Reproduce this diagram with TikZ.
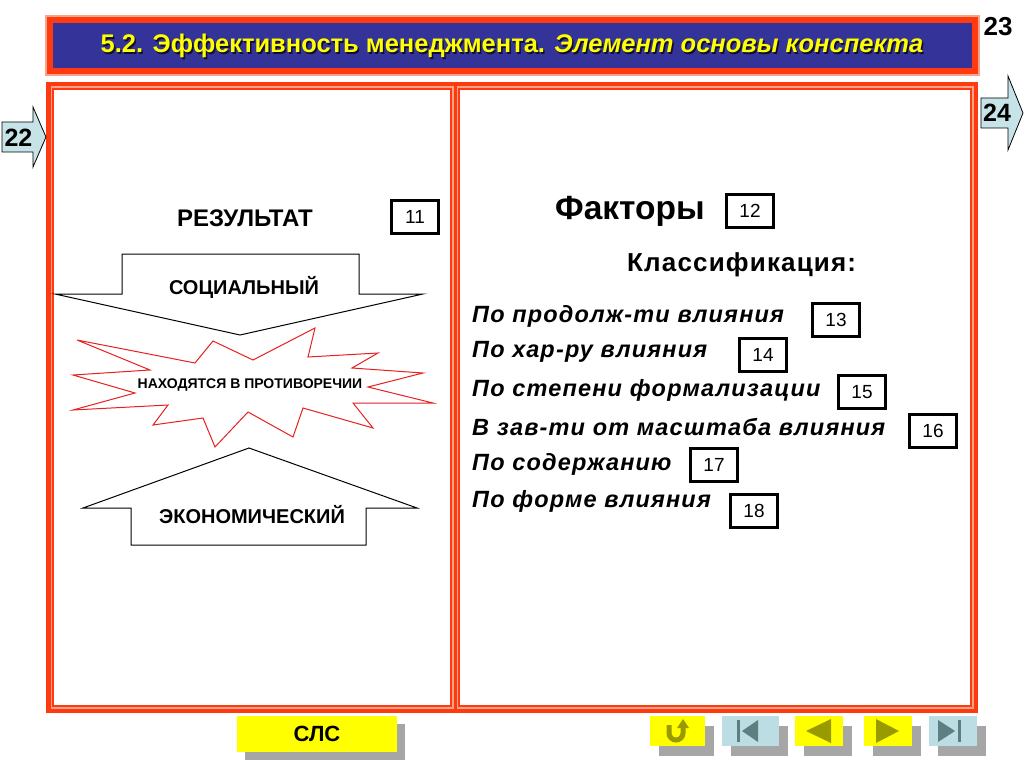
\documentclass[tikz,border=0pt]{standalone}
\usepackage{fontspec}
\setmainfont{Liberation Sans}
\definecolor{frred}{HTML}{FF3A10}
\definecolor{frpink}{HTML}{F8A488}
\definecolor{tblue}{HTML}{333399}
\definecolor{tyellow}{HTML}{FFFF00}
\definecolor{navblue}{HTML}{BCDDE3}
\definecolor{navgray}{HTML}{5E7F82}
\definecolor{olive}{HTML}{999900}
\definecolor{shadowgray}{HTML}{A6A6A6}
\definecolor{arrowblue}{HTML}{C6E3E8}
\definecolor{starred}{HTML}{E82020}
\begin{document}
\begin{tikzpicture}[x=1pt,y=-1pt,
  numbox/.style={draw=black, line width=2.8pt, minimum width=47pt, minimum height=33pt, inner sep=0pt, font=\fontsize{19}{19}\selectfont},
  listtext/.style={anchor=west, inner sep=0pt, font=\fontsize{23.5}{26}\selectfont\bfseries\itshape\addfontfeature{LetterSpace=5}},
  bigarrow/.style={draw=black, line width=1pt, fill=white},
  sidearrow/.style={draw=black, line width=0.8pt, fill=arrowblue},
  ybtn/.style={fill=tyellow},
  bbtn/.style={fill=navblue},
  shad/.style={fill=shadowgray},
  capt/.style={inner sep=0pt, font=\fontsize{20}{22}\selectfont\bfseries}
]
\useasboundingbox (0,0) rectangle (1024,767);
\fill[white] (0,0) rectangle (1024,767);

% title bar
\fill[frpink] (45,15) rectangle (980,76);
\fill[frred] (47,17) rectangle (978,74);
\fill[tblue] (53,23) rectangle (972,68);
\node[inner sep=0pt, text=black!70!tblue, font=\fontsize{25.5}{28}\selectfont\bfseries] at (513.5,47.5) {5.2. Эффективность менеджмента. \itshape Элемент основы конспекта};
\node (title) [inner sep=0pt, text=tyellow, font=\fontsize{25.5}{28}\selectfont\bfseries] at (512,46) {5.2. Эффективность менеджмента. \itshape Элемент основы конспекта};
\node (p23) [inner sep=0pt, font=\fontsize{26}{26}\selectfont\bfseries] at (998,27) {23};

% main frame
\fill[frred] (46,82) rectangle (978,713);
\fill[frpink] (50.5,86.5) rectangle (454,708.5);
\filldraw[fill=white, draw=frred, line width=1.5pt] (53,89) rectangle (451,706);
\fill[frpink] (456.5,86.5) rectangle (973.5,708.5);
\filldraw[fill=white, draw=frred, line width=1.5pt] (459,89) rectangle (971,706);

% side arrows
\draw[sidearrow] (2,122) -- (33,122) -- (33,107) -- (46,137) -- (33,167) -- (33,152) -- (2,152) -- cycle;
\node (p22) [inner sep=0pt, font=\fontsize{25}{25}\selectfont\bfseries] at (18.5,137.5) {22};
\draw[sidearrow] (981,98) -- (1008,98) -- (1008,76) -- (1023,113) -- (1008,150) -- (1008,128) -- (981,128) -- cycle;
\node (p24) [inner sep=0pt, font=\fontsize{25}{25}\selectfont\bfseries] at (997,113) {24};

% left panel
\node (res) [inner sep=0pt, font=\fontsize{24}{26}\selectfont\bfseries] at (245,218) {РЕЗУЛЬТАТ};
\node (b11) [numbox] at (415,217) {11};

\draw[bigarrow] (122,254) -- (359,254) -- (359,294) -- (423,294) -- (240,335) -- (55,294) -- (122,294) -- cycle;
\node (soc) [capt] at (244,287) {СОЦИАЛЬНЫЙ};

\draw[draw=starred, line width=1pt, fill=white]
  (77,340) -- (195,363) -- (213,341) -- (253,360) -- (315,328) -- (308,357)
  -- (378,353) -- (352,368) -- (423,373) -- (368,387) -- (433,403) -- (353,403)
  -- (373,428) -- (303,408) -- (293,437) -- (248,412) -- (215,447) -- (203,418)
  -- (153,425) -- (168,405) -- (73,410) -- (135,393) -- (73,375) -- (150,370) -- cycle;
\node (contra) [inner sep=0pt, font=\fontsize{14}{16}\selectfont\bfseries] at (250,385) {НАХОДЯТСЯ В ПРОТИВОРЕЧИИ};

\draw[bigarrow] (249,448) -- (417,508) -- (366,508) -- (366,545) -- (131,545) -- (131,508) -- (83,508) -- cycle;
\node (eco) [capt] at (252,515) {ЭКОНОМИЧЕСКИЙ};

% right panel
\node (fac) [inner sep=0pt, anchor=west, font=\fontsize{33.5}{36}\selectfont\bfseries] at (555,211) {Факторы};
\node (b12) [numbox] at (750,211) {12};
\node (cls) [inner sep=0pt, anchor=west, font=\fontsize{26}{28}\selectfont\bfseries\addfontfeature{LetterSpace=4.5}] at (627,265) {Классификация:};

\node (l13) [listtext] at (472,316) {По продолж-ти влияния};
\node (b13) [numbox] at (836,320) {13};
\node (l14) [listtext] at (472,352) {По хар-ру влияния};
\node (b14) [numbox] at (763,355) {14};
\node (l15) [listtext] at (472,390) {По степени формализации};
\node (b15) [numbox] at (862,392) {15};
\node (l16) [listtext] at (472,427) {В зав-ти от масштаба влияния};
\node (b16) [numbox] at (933,431) {16};
\node (l17) [listtext] at (472,464) {По содержанию};
\node (b17) [numbox] at (714,465) {17};
\node (l18) [listtext] at (472,501) {По форме влияния};
\node (b18) [numbox] at (754,511) {18};

% bottom buttons
\fill[shad] (245,724) rectangle (405,760);
\node (sls) [ybtn, minimum width=160pt, minimum height=36pt, inner sep=0pt, font=\fontsize{22}{24}\selectfont\bfseries] at (317,734) {СЛС};

\fill[shad] (659,726) rectangle (714,756);
\fill[ybtn] (650,716) rectangle (705,746);
\draw[olive, line width=5pt] (669,725) -- (669,733) arc[start angle=180, end angle=0, radius=7] -- (683,727);
\fill[olive] (677,728) -- (689,728) -- (683,719) -- cycle;

\fill[shad] (731,726) rectangle (788,756);
\fill[bbtn] (722,716) rectangle (779,746);
\fill[navgray] (737,720) rectangle (740,742);
\fill[navgray] (742,731) -- (758,720) -- (758,742) -- cycle;

\fill[shad] (804,726) rectangle (852,756);
\fill[ybtn] (795,716) rectangle (843,746);
\fill[olive] (806,731) -- (831,719) -- (831,743) -- cycle;

\fill[shad] (873,726) rectangle (921,756);
\fill[ybtn] (864,716) rectangle (912,746);
\fill[olive] (899,731) -- (876,719) -- (876,743) -- cycle;

\fill[shad] (938,726) rectangle (986,756);
\fill[bbtn] (929,716) rectangle (977,746);
\fill[navgray] (938,720) -- (955,731) -- (938,742) -- cycle;
\fill[navgray] (958,720) rectangle (961,742);
\end{tikzpicture}
\end{document}
